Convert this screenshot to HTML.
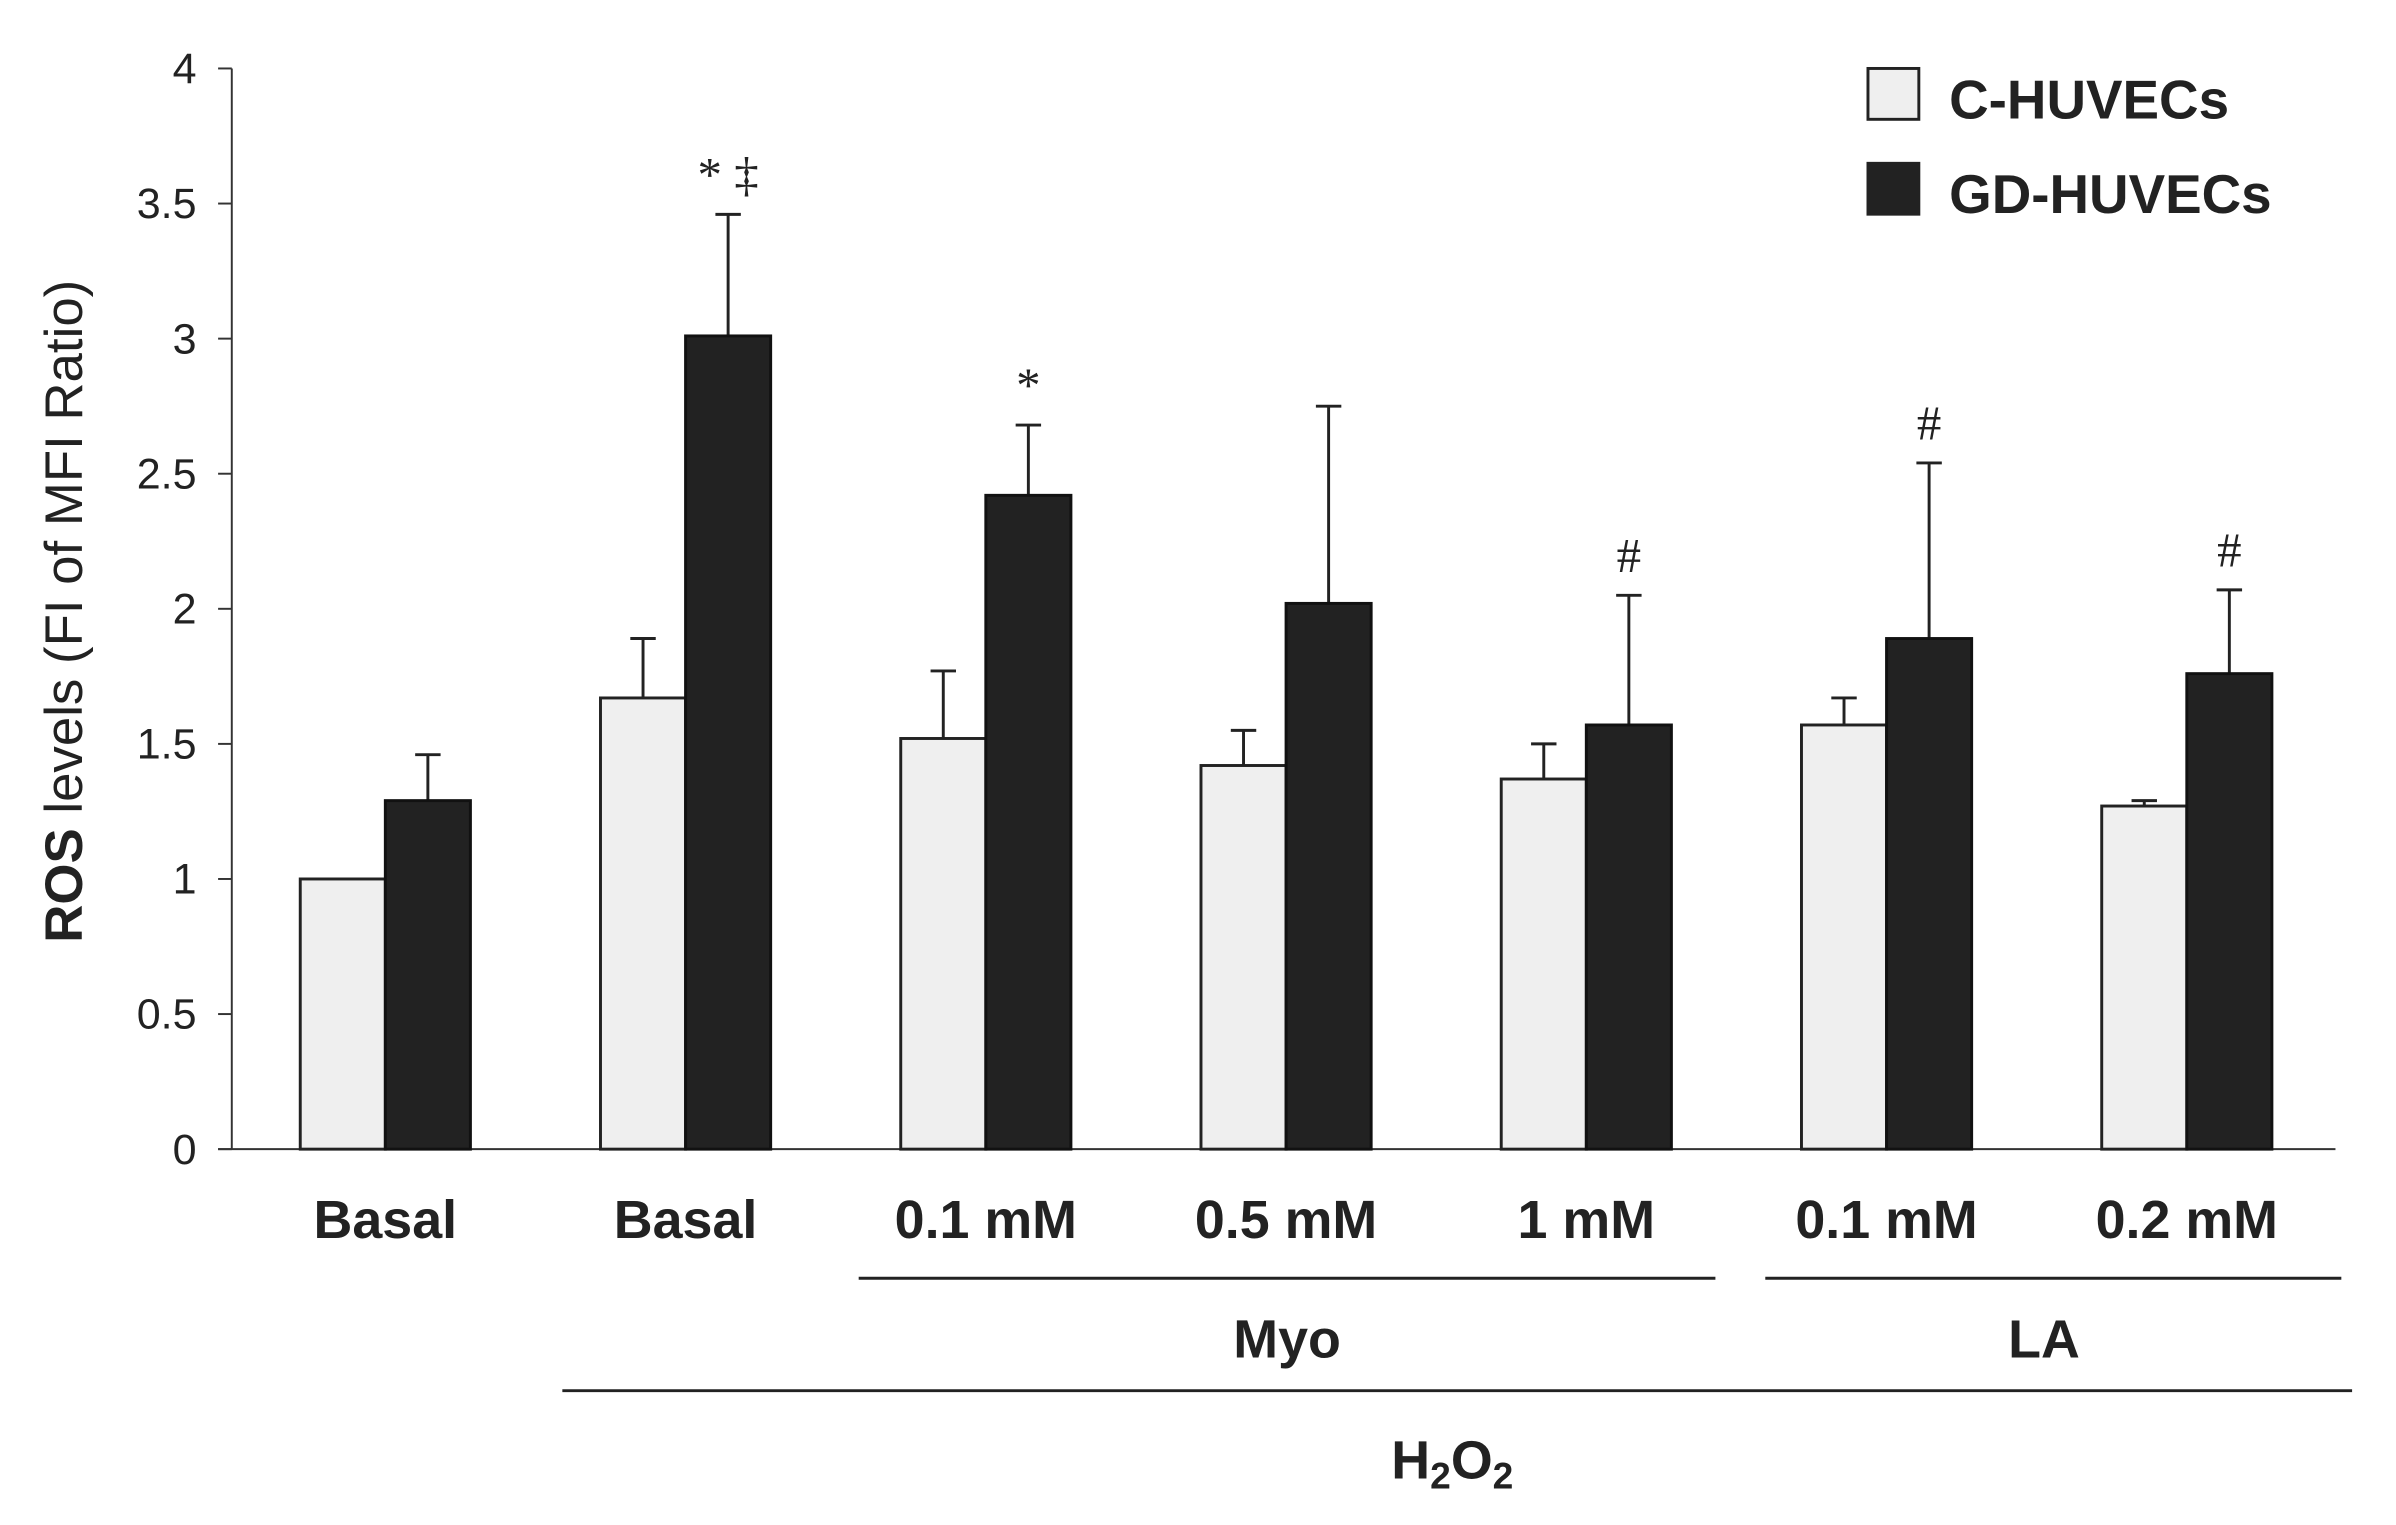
<!DOCTYPE html>
<html><head><meta charset="utf-8"><style>
html,body{margin:0;padding:0;background:#fff;}
svg{display:block;font-family:"Liberation Sans",Arial,sans-serif;}
</style></head><body>
<svg id="chart" width="2396" height="1525" viewBox="0 0 2396 1525" xmlns="http://www.w3.org/2000/svg">
<g transform="scale(0.978)">
<g id="axes"></g><g id="bars"></g>
<text transform="translate(84,625) rotate(-90)" text-anchor="middle" font-size="54" fill="#222"><tspan font-weight="bold">ROS</tspan> levels (FI of MFI Ratio)</text>
<g>
<rect x="1910" y="70" width="52" height="52" fill="#efefef" stroke="#222" stroke-width="3"/>
<text x="1993" y="121" font-size="56" font-weight="bold" fill="#222">C-HUVECs</text>
<rect x="1910" y="167" width="52" height="52" fill="#222" stroke="#222" stroke-width="3"/>
<text x="1993" y="218" font-size="56" font-weight="bold" fill="#222">GD-HUVECs</text>
</g>
<line x1="878" y1="1307" x2="1754" y2="1307" stroke="#222" stroke-width="3"/>
<line x1="1805" y1="1307" x2="2394" y2="1307" stroke="#222" stroke-width="3"/>
<text x="1316" y="1388" text-anchor="middle" font-size="55" font-weight="bold" fill="#222">Myo</text>
<text x="2090" y="1388" text-anchor="middle" font-size="55" font-weight="bold" fill="#222">LA</text>
<line x1="575" y1="1422" x2="2405" y2="1422" stroke="#222" stroke-width="3"/>
<text x="1485" y="1512" text-anchor="middle" font-size="55" font-weight="bold" fill="#222">H<tspan font-size="38" dy="10">2</tspan><tspan dy="-10">O</tspan><tspan font-size="38" dy="10">2</tspan></text>
</g>
</svg>
<script>
const categories = ["Basal","Basal","0.1 mM","0.5 mM","1 mM","0.1 mM","0.2 mM"];
const cValues = [1.0,1.67,1.52,1.42,1.37,1.57,1.27];
const cErrors = [0,0.22,0.25,0.13,0.13,0.10,0.02];
const gdValues = [1.29,3.01,2.42,2.02,1.57,1.89,1.76];
const gdErrors = [0.17,0.45,0.26,0.73,0.48,0.65,0.31];
const gdMarks = ["","* ‡","*","","#","#","#"];
const yTicks = [0,0.5,1,1.5,2,2.5,3,3.5,4];
const tickLabels = ["0","0.5","1","1.5","2","2.5","3","3.5","4"];

const NS="http://www.w3.org/2000/svg";
const X0=237, Y0=1175, Y4=70, XR=2388;
const y = v => Y0 - (Y0-Y4)*v/4;
const groupX = i => 394 + i*307;
const BW=87;
function mk(tag, attrs, parent){const e=document.createElementNS(NS,tag);for(const k in attrs)e.setAttribute(k,attrs[k]);parent.appendChild(e);return e;}
const axes=document.getElementById('axes'), bars=document.getElementById('bars');
let e=mk('line',{x1:X0,y1:Y4,x2:X0,y2:Y0,stroke:'#333','stroke-width':2},axes);


e=mk('line',{x1:X0-14,y1:Y0,x2:XR,y2:Y0,stroke:'#333','stroke-width':2},axes);


yTicks.forEach((t,i)=>{
  const tk=mk('line',{x1:X0-14,y1:y(t),x2:X0,y2:y(t),stroke:'#333','stroke-width':2},axes);
  
  
  const tl=mk('text',{x:X0-36,y:y(t)+15,'text-anchor':'end','font-size':44,fill:'#222'},axes);
  tl.textContent=tickLabels[i];
  
  
});
function errBar(cx,top,val){
  const l=mk('line',{x1:cx,y1:y(val),x2:cx,y2:y(top),stroke:'#222','stroke-width':3},bars);
  
  
  const c=mk('line',{x1:cx-13,y1:y(top),x2:cx+13,y2:y(top),stroke:'#222','stroke-width':3},bars);
  
  
}
categories.forEach((cat,i)=>{
  const gx=groupX(i);
  if(cErrors[i]>0) errBar(gx-BW/2,cValues[i]+cErrors[i],cValues[i]);
  errBar(gx+BW/2,gdValues[i]+gdErrors[i],gdValues[i]);
  const rc=mk('rect',{x:gx-BW,y:y(cValues[i]),width:BW,height:Y0-y(cValues[i]),fill:'#efefef',stroke:'#222','stroke-width':3},bars);
  
  
  const rg=mk('rect',{x:gx,y:y(gdValues[i]),width:BW,height:Y0-y(gdValues[i]),fill:'#222',stroke:'#111','stroke-width':3},bars);
  
  
  if(gdMarks[i]){
    const m=mk('text',{x:gx+BW/2,y:y(gdValues[i]+gdErrors[i])-24,'text-anchor':'middle','font-size':50,fill:'#222','font-family':'"Liberation Serif",serif'},bars);
    m.textContent=gdMarks[i];
    
    
  }
  const cl=mk('text',{x:gx,y:1266,'text-anchor':'middle','font-size':55,'font-weight':'bold',fill:'#222'},bars);
  cl.textContent=cat;
  
  
});
</script>
</body></html>
